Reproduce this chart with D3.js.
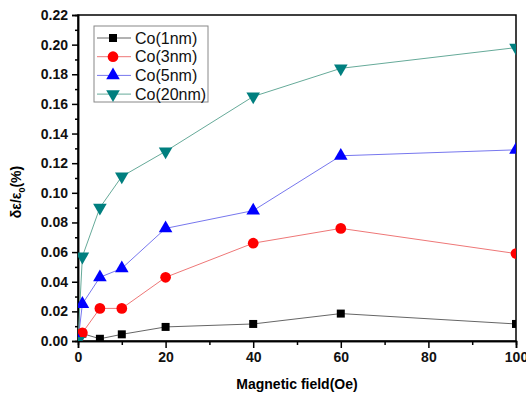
<!DOCTYPE html>
<html>
<head>
<meta charset="utf-8">
<script src="https://cdn.jsdelivr.net/npm/d3@7"></script>
<style>
  body { margin: 0; background: #fff; }
  svg { display: block; font-family: "Liberation Sans", Arial, sans-serif; }
</style>
</head>
<body>
<svg width="526" height="396"></svg>
<script>
// Data
const field = [0, 1, 5, 10, 20, 40, 60, 100];
const co1 = [0, 0.005, 0.0015, 0.0045, 0.0095, 0.0115, 0.0185, 0.0115];
const co3 = [0, 0.0055, 0.022, 0.022, 0.043, 0.066, 0.076, 0.059];
const co5 = [0, 0.025, 0.043, 0.049, 0.076, 0.088, 0.125, 0.129];
const co20 = [0, 0.057, 0.090, 0.111, 0.128, 0.165, 0.184, 0.198];
const seriesNames = ['Co(1nm)', 'Co(3nm)', 'Co(5nm)', 'Co(20nm)'];
const xTicks = [0, 20, 40, 60, 80, 100];
const yTicks = [0, 0.02, 0.04, 0.06, 0.08, 0.10, 0.12, 0.14, 0.16, 0.18, 0.20, 0.22];

const series = [
  {name: seriesNames[0], values: co1, marker: d3.symbolSquare, size: 64, color: '#000', line: '#666'},
  {name: seriesNames[1], values: co3, marker: d3.symbolCircle, size: 90, color: '#ff0000', line: '#ee7777'},
  {name: seriesNames[2], values: co5, marker: d3.symbolTriangle, size: 80, color: '#0000ff', line: '#7777ee'},
  {name: seriesNames[3], values: co20, marker: d3.symbolTriangle, size: 80, color: '#007f7f', line: '#66aa99', flip: true},
];

const margin = {top: 15, right: 10, bottom: 55, left: 78};
const svg = d3.select('svg');
const width = +svg.attr('width') - margin.left - margin.right;
const height = +svg.attr('height') - margin.top - margin.bottom;

const x = d3.scaleLinear().domain([0, 100]).range([0, width]);
const y = d3.scaleLinear().domain([0, 0.22]).range([height, 0]);

const g = svg.append('g').attr('transform', `translate(${margin.left},${margin.top})`);

svg.append('defs').append('clipPath').attr('id', 'plot')
  .append('rect').attr('width', width).attr('height', height);

// Frame
g.append('rect')
  .attr('width', width).attr('height', height)
  .attr('fill', 'none').attr('stroke', '#000').attr('stroke-width', 1.5);

// Axes
const xAxis = g.append('g').attr('transform', `translate(0,${height})`)
  .call(d3.axisBottom(x).tickValues(xTicks).tickSize(7).tickPadding(4).tickFormat(d3.format('d')));
const xMinor = g.append('g').attr('transform', `translate(0,${height})`)
  .call(d3.axisBottom(x).tickValues([10, 30, 50, 70, 90]).tickSize(4).tickFormat(''));
const yAxis = g.append('g')
  .call(d3.axisLeft(y).tickValues(yTicks).tickSize(6).tickPadding(4).tickFormat(d3.format('.2f')));
const yMinor = g.append('g')
  .call(d3.axisLeft(y).tickValues(yTicks.slice(0, -1).map((v) => v + 0.01)).tickSize(3).tickFormat(''));

[xAxis, xMinor, yAxis, yMinor].forEach((a) => {
  a.select('.domain').attr('stroke-width', 1.5);
  a.selectAll('.tick line').attr('stroke-width', 1.5);
});
[xAxis, yAxis].forEach((a) => {
  a.selectAll('text')
    .attr('font-size', 14).attr('font-weight', 'bold')
    .attr('font-family', '"Liberation Sans", Arial, sans-serif').attr('fill', '#111');
});

// Axis titles
svg.append('text')
  .attr('x', margin.left + width / 2).attr('y', 389)
  .attr('text-anchor', 'middle').attr('font-size', 14).attr('font-weight', 'bold')
  .text('Magnetic field(Oe)');

const yTitle = svg.append('text')
  .attr('transform', 'translate(21,192) rotate(-90)')
  .attr('text-anchor', 'middle').attr('font-size', 14).attr('font-weight', 'bold');
yTitle.append('tspan').text('δε/ε');
yTitle.append('tspan').attr('font-size', 9).attr('dy', 4).text('0');
yTitle.append('tspan').attr('dy', -4).text('(%)');

// Lines and markers
const plot = g.append('g').attr('clip-path', 'url(#plot)');
const line = d3.line().x((d) => x(d[0])).y((d) => y(d[1]));

series.forEach((s) => {
  const pts = field.map((f, i) => [f, s.values[i]]);
  plot.append('path')
    .datum(pts)
    .attr('fill', 'none').attr('stroke', s.line).attr('stroke-width', 1)
    .attr('d', line);
});
series.forEach((s) => {
  const pts = field.map((f, i) => [f, s.values[i]]);
  const sym = d3.symbol().type(s.marker).size(s.size);
  plot.selectAll(null).data(pts).enter().append('path')
    .attr('d', sym)
    .attr('fill', s.color)
    .attr('transform', (d) => `translate(${x(d[0])},${y(d[1])})${s.flip ? ' rotate(180)' : ''}`);
});

// Legend
const legend = svg.append('g').attr('transform', 'translate(94,26)');
legend.append('rect')
  .attr('width', 114).attr('height', 76)
  .attr('fill', '#fff').attr('stroke', '#888').attr('stroke-width', 1);
series.forEach((s, i) => {
  const ly = 12 + i * 18.7;
  const row = legend.append('g').attr('transform', `translate(0,${ly})`);
  row.append('line').attr('x1', 3).attr('x2', 37).attr('stroke', s.line).attr('stroke-width', 1);
  row.append('path')
    .attr('d', d3.symbol().type(s.marker).size(s.size)())
    .attr('fill', s.color)
    .attr('transform', `translate(19,0)${s.flip ? ' rotate(180)' : ''}`);
  row.append('text')
    .attr('x', 41).attr('dy', '0.35em')
    .attr('font-size', 16).attr('fill', '#111')
    .text(s.name);
});
</script>
</body>
</html>
